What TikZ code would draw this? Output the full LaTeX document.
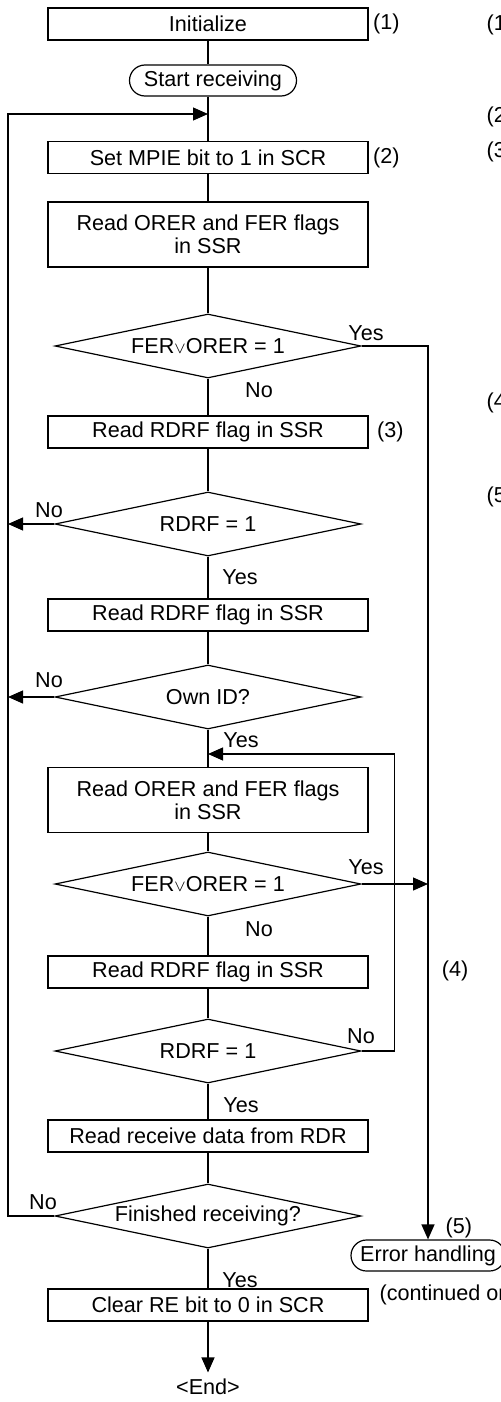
\documentclass[tikz,border=0pt]{standalone}
\usepackage{fontspec}
\setmainfont{Liberation Sans}
\usetikzlibrary{arrows.meta,positioning,shapes.geometric}

\begin{document}
\begin{tikzpicture}[
    x=0.5pt,y=-0.5pt,line width=0.6pt,
    >={Triangle[length=7.5pt,width=6.5pt]},
    font=\fontsize{10.8}{11.6}\selectfont,
    procbox/.style={draw,minimum width=160pt,minimum height=16pt,inner sep=0pt,align=center},
    twobox/.style={procbox,minimum height=32.5pt},
    decide/.style={draw,diamond,aspect=4.8,minimum width=153pt,minimum height=32pt,inner sep=0pt},
    termbox/.style={draw,rounded corners=7.75pt,minimum height=15.5pt,inner sep=0pt},
    tag/.style={inner sep=0pt}]
  \useasboundingbox (0,0) rectangle (501,1402);
  \clip (0,0) rectangle (501,1402);
  % main column
  \node[procbox] (init) at (208,24) {Initialize};
  \node[termbox,minimum width=83.5pt] (start) at (213,80.5) {Start receiving};
  \node[procbox] (setm) at (208,157.5) {Set MPIE bit to 1 in SCR};
  \node[twobox] (rof1) at (208,234.5) {Read ORER and FER flags\\in SSR};
  \node[decide] (d1) at (208,346) {FER{\footnotesize$\vee$}ORER = 1};
  \node[procbox] (rdrf1) at (208,432) {Read RDRF flag in SSR};
  \node[decide] (d2) at (208,524) {RDRF = 1};
  \node[procbox] (rdrf2) at (208,615) {Read RDRF flag in SSR};
  \node[decide] (d3) at (208,697) {Own ID?};
  \node[twobox] (rof2) at (208,800) {Read ORER and FER flags\\in SSR};
  \node[decide] (d4) at (208,884) {FER{\footnotesize$\vee$}ORER = 1};
  \node[procbox] (rdrf3) at (208,972) {Read RDRF flag in SSR};
  \node[decide] (d5) at (208,1051) {RDRF = 1};
  \node[procbox] (rxd) at (208,1136) {Read receive data from RDR};
  \node[decide] (d6) at (208,1216) {Finished receiving?};
  \node[procbox] (clr) at (208,1305) {Clear RE bit to 0 in SCR};
  \node[tag,inner sep=3pt] (fin) at (208,1387) {<End>};
  \node[termbox,minimum width=77pt] (err) at (428,1255.5) {Error handling};
  \coordinate (leftrail) at (8,0);
  \coordinate (loopin) at (208,114);
  \coordinate (inloop) at (208,754);
  % step numbers
  \node[tag,right=2pt of init] (s1) {(1)};
  \node[tag,right=2pt of setm] (s2) {(2)};
  \node[tag,right=4pt of rdrf1] (s3) {(3)};
  \node[tag] (s4) at (455,971) {(4)};
  \node[tag,anchor=west] (s5) at (445,1228) {(5)};
  \node[tag,anchor=west] (cont) at (379,1295) {(continued on next page)};
  \node[tag,anchor=west] (r1) at (486,25) {(1)};
  \node[tag,anchor=west] (r2) at (486,117) {(2)};
  \node[tag,anchor=west] (r3) at (486,152) {(3)};
  \node[tag,anchor=west] (r4) at (486,403) {(4)};
  \node[tag,anchor=west] (r5) at (486,497) {(5)};
  % branch labels
  \node[tag] (y1) at (366,333) {Yes};
  \node[tag] (n1) at (259,390) {No};
  \node[tag] (n2) at (49,510) {No};
  \node[tag] (y2) at (240,577) {Yes};
  \node[tag] (n3) at (49,680) {No};
  \node[tag] (y3) at (241,740) {Yes};
  \node[tag] (y4) at (366,867) {Yes};
  \node[tag] (n4) at (259,929) {No};
  \node[tag] (n5) at (361,1036) {No};
  \node[tag] (y5) at (241,1105) {Yes};
  \node[tag] (n6) at (43,1202) {No};
  \node[tag] (y6) at (240,1280) {Yes};
  % connectors
  \draw (init) -- (init |- start.north);
  \draw (init |- start.south) -- (setm);
  \draw (setm) -- (rof1);
  \draw (rof1) -- (d1);
  \draw (d1) -- (rdrf1);
  \draw (rdrf1) -- (d2);
  \draw (d2) -- (rdrf2);
  \draw (rdrf2) -- (d3);
  \draw (d3) -- (rof2);
  \draw (rof2) -- (d4);
  \draw (d4) -- (rdrf3);
  \draw (rdrf3) -- (d5);
  \draw (d5) -- (rxd);
  \draw (rxd) -- (d6);
  \draw (d6) -- (clr);
  \draw[->] (clr) -- (fin);
  \draw[->] (d2.west) -- (d2.west -| leftrail);
  \draw[->] (d3.west) -- (d3.west -| leftrail);
  \draw[->] (d6.west) -- (d6.west -| leftrail) |- (loopin);
  \draw[->] (d1.east) -| (err.north);
  \draw[->] (d4.east) -- (d4.east -| err.north);
  \draw[->] (d5.east) -- ++(33,0) |- (inloop);
\end{tikzpicture}
\end{document}
